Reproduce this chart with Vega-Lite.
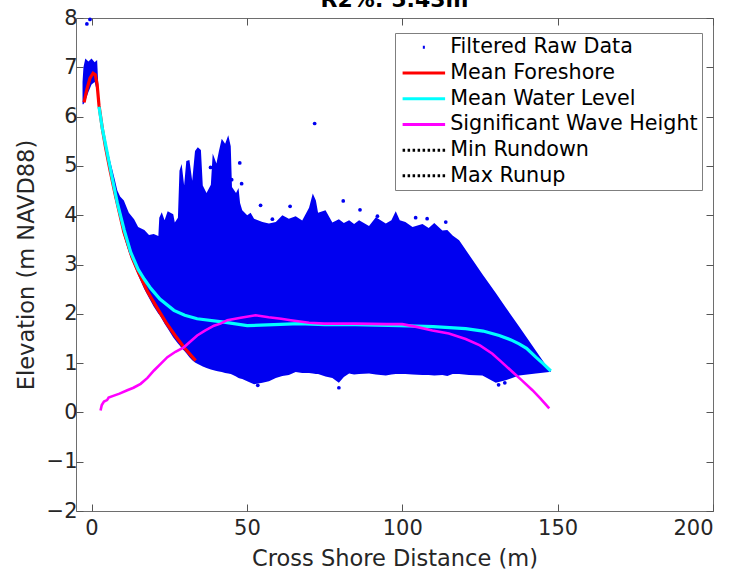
{
  "$schema": "https://vega.github.io/schema/vega-lite/v6.json",
  "width": 637,
  "height": 493,
  "autosize": {"type": "none"},
  "padding": {"left": 76, "top": 18, "right": 24, "bottom": 60},
  "background": "white",
  "title": {"text": "R2%: 5.43m", "fontSize": 22, "fontWeight": "bold", "font": "DejaVu Sans", "color": "#000000", "offset": -6.5, "dy": 20, "baseline": "bottom", "anchor": "middle", "frame": "group"},
  "config": {
    "font": "DejaVu Sans",
    "view": {"stroke": "#6e6e6e", "strokeWidth": 1},
    "axis": {"grid": false, "domain": false, "tickColor": "#555555", "tickSize": -7, "labelFont": "DejaVu Sans", "titleFont": "DejaVu Sans", "labelFontSize": 21, "titleFontSize": 22.5, "labelColor": "#262626", "titleColor": "#262626", "titleFontWeight": "normal"}
  },
  "datasets": {
    "cloud": [
      {"x": -2.9, "lo": 6.25, "hi": 6.7},
      {"x": -2.6, "lo": 6.25, "hi": 7.0},
      {"x": -2.0, "lo": 6.32, "hi": 7.18},
      {"x": -1.0, "lo": 6.5, "hi": 7.12},
      {"x": 0.0, "lo": 6.65, "hi": 7.18},
      {"x": 1.0, "lo": 6.7, "hi": 7.1},
      {"x": 1.8, "lo": 6.5, "hi": 7.15},
      {"x": 2.2, "lo": 6.3, "hi": 6.6},
      {"x": 2.6, "lo": 6.05, "hi": 6.15},
      {"x": 3.2, "lo": 5.75, "hi": 5.95},
      {"x": 4.5, "lo": 5.3, "hi": 5.5},
      {"x": 6.0, "lo": 4.82, "hi": 5.1},
      {"x": 7.5, "lo": 4.35, "hi": 4.72},
      {"x": 8.3, "lo": 4.15, "hi": 4.5},
      {"x": 9.2, "lo": 3.9, "hi": 4.38},
      {"x": 10.4, "lo": 3.58, "hi": 4.3},
      {"x": 12.0, "lo": 3.25, "hi": 4.05},
      {"x": 13.7, "lo": 2.98, "hi": 3.92},
      {"x": 15.0, "lo": 2.78, "hi": 3.76},
      {"x": 17.0, "lo": 2.5, "hi": 3.7},
      {"x": 18.5, "lo": 2.32, "hi": 3.6},
      {"x": 20.0, "lo": 2.15, "hi": 3.62},
      {"x": 21.5, "lo": 2.0, "hi": 3.58},
      {"x": 21.8, "lo": 1.98, "hi": 3.95},
      {"x": 22.6, "lo": 1.9, "hi": 4.06},
      {"x": 23.5, "lo": 1.8, "hi": 3.9},
      {"x": 24.5, "lo": 1.7, "hi": 4.08},
      {"x": 26.3, "lo": 1.52, "hi": 4.02},
      {"x": 26.8, "lo": 1.48, "hi": 3.85},
      {"x": 27.8, "lo": 1.4, "hi": 3.95},
      {"x": 28.3, "lo": 1.36, "hi": 4.9},
      {"x": 29.0, "lo": 1.3, "hi": 5.04},
      {"x": 29.8, "lo": 1.25, "hi": 4.6},
      {"x": 30.5, "lo": 1.2, "hi": 5.1},
      {"x": 31.5, "lo": 1.12, "hi": 5.12},
      {"x": 32.4, "lo": 1.06, "hi": 4.7},
      {"x": 33.3, "lo": 1.01, "hi": 5.3},
      {"x": 34.2, "lo": 0.98, "hi": 5.38},
      {"x": 35.2, "lo": 0.95, "hi": 5.32},
      {"x": 35.8, "lo": 0.93, "hi": 4.6},
      {"x": 37.0, "lo": 0.9, "hi": 4.45},
      {"x": 38.4, "lo": 0.87, "hi": 4.62},
      {"x": 39.0, "lo": 0.86, "hi": 5.25},
      {"x": 40.2, "lo": 0.84, "hi": 5.05},
      {"x": 41.0, "lo": 0.83, "hi": 5.3},
      {"x": 41.9, "lo": 0.82, "hi": 5.55},
      {"x": 43.0, "lo": 0.8, "hi": 5.45},
      {"x": 44.0, "lo": 0.79, "hi": 5.62},
      {"x": 44.8, "lo": 0.78, "hi": 5.4},
      {"x": 45.2, "lo": 0.77, "hi": 4.57},
      {"x": 46.5, "lo": 0.73, "hi": 4.45},
      {"x": 47.3, "lo": 0.7, "hi": 4.55},
      {"x": 47.8, "lo": 0.69, "hi": 4.25},
      {"x": 48.5, "lo": 0.68, "hi": 4.1},
      {"x": 50.1, "lo": 0.63, "hi": 4.0},
      {"x": 51.2, "lo": 0.6, "hi": 4.05},
      {"x": 52.3, "lo": 0.57, "hi": 3.93},
      {"x": 55.0, "lo": 0.6, "hi": 3.86},
      {"x": 57.1, "lo": 0.63, "hi": 3.83},
      {"x": 59.3, "lo": 0.7, "hi": 3.86},
      {"x": 61.4, "lo": 0.74, "hi": 4.0},
      {"x": 63.5, "lo": 0.76, "hi": 3.93},
      {"x": 65.7, "lo": 0.82, "hi": 3.98},
      {"x": 67.8, "lo": 0.8, "hi": 3.89},
      {"x": 70.0, "lo": 0.8, "hi": 4.15},
      {"x": 71.2, "lo": 0.79, "hi": 4.44},
      {"x": 72.2, "lo": 0.78, "hi": 4.3},
      {"x": 72.9, "lo": 0.78, "hi": 4.05},
      {"x": 75.3, "lo": 0.73, "hi": 4.1},
      {"x": 77.5, "lo": 0.7, "hi": 3.85},
      {"x": 79.6, "lo": 0.6, "hi": 3.92},
      {"x": 81.2, "lo": 0.72, "hi": 3.84},
      {"x": 82.9, "lo": 0.79, "hi": 3.9},
      {"x": 84.5, "lo": 0.77, "hi": 3.82},
      {"x": 86.1, "lo": 0.78, "hi": 3.9},
      {"x": 89.3, "lo": 0.79, "hi": 3.78},
      {"x": 91.5, "lo": 0.77, "hi": 3.96},
      {"x": 94.7, "lo": 0.75, "hi": 3.83},
      {"x": 96.5, "lo": 0.77, "hi": 3.9},
      {"x": 97.9, "lo": 0.78, "hi": 4.08},
      {"x": 99.2, "lo": 0.78, "hi": 3.9},
      {"x": 101.0, "lo": 0.78, "hi": 3.86},
      {"x": 103.3, "lo": 0.77, "hi": 3.76},
      {"x": 106.5, "lo": 0.76, "hi": 3.82},
      {"x": 108.5, "lo": 0.76, "hi": 3.74},
      {"x": 110.3, "lo": 0.75, "hi": 3.84},
      {"x": 112.9, "lo": 0.76, "hi": 3.69},
      {"x": 114.5, "lo": 0.74, "hi": 3.7},
      {"x": 116.2, "lo": 0.78, "hi": 3.59},
      {"x": 118.3, "lo": 0.78, "hi": 3.49},
      {"x": 121.5, "lo": 0.76, "hi": 3.2},
      {"x": 125.8, "lo": 0.75, "hi": 2.8},
      {"x": 130.1, "lo": 0.6, "hi": 2.42},
      {"x": 133.3, "lo": 0.65, "hi": 2.13},
      {"x": 137.6, "lo": 0.75, "hi": 1.74},
      {"x": 143.0, "lo": 0.79, "hi": 1.25},
      {"x": 147.3, "lo": 0.82, "hi": 0.86},
      {"x": 147.8, "lo": 0.82, "hi": 0.83}
    ],
    "outliers": [
      {"x": -1.5, "y": 7.88}, {"x": -0.5, "y": 7.97}, {"x": 71.8, "y": 5.86},
      {"x": 47.7, "y": 5.06}, {"x": 48.3, "y": 4.64}, {"x": 38.3, "y": 4.97},
      {"x": 45.1, "y": 4.72}, {"x": 54.4, "y": 4.2}, {"x": 63.9, "y": 4.18},
      {"x": 81.0, "y": 4.29}, {"x": 86.4, "y": 4.11}, {"x": 92.0, "y": 3.98},
      {"x": 104.3, "y": 3.95}, {"x": 108.0, "y": 3.93}, {"x": 114.0, "y": 3.86},
      {"x": 58.2, "y": 3.92}, {"x": 79.6, "y": 0.5}, {"x": 131.0, "y": 0.56},
      {"x": 133.0, "y": 0.6}, {"x": 53.5, "y": 0.55}
    ],
    "foreshore": [
      {"x": -2.4, "y": 6.29}, {"x": -1.5, "y": 6.55}, {"x": -0.5, "y": 6.78},
      {"x": 0.5, "y": 6.88}, {"x": 1.2, "y": 6.85}, {"x": 1.8, "y": 6.65},
      {"x": 2.4, "y": 6.23}, {"x": 3.5, "y": 5.75}, {"x": 4.5, "y": 5.38},
      {"x": 6.0, "y": 4.9}, {"x": 7.5, "y": 4.45}, {"x": 10.4, "y": 3.66},
      {"x": 13.0, "y": 3.15}, {"x": 15.0, "y": 2.85}, {"x": 18.0, "y": 2.45},
      {"x": 21.1, "y": 2.12}, {"x": 24.0, "y": 1.82}, {"x": 27.0, "y": 1.55},
      {"x": 30.0, "y": 1.3}, {"x": 33.5, "y": 1.05}
    ],
    "water": [
      {"x": 2.4, "y": 6.2}, {"x": 3.5, "y": 5.75}, {"x": 5.1, "y": 5.25},
      {"x": 6.5, "y": 4.8}, {"x": 8.3, "y": 4.25}, {"x": 10.5, "y": 3.7},
      {"x": 12.6, "y": 3.25}, {"x": 15.0, "y": 2.9}, {"x": 17.0, "y": 2.7},
      {"x": 19.0, "y": 2.52}, {"x": 22.0, "y": 2.3}, {"x": 26.5, "y": 2.07},
      {"x": 30.0, "y": 1.97}, {"x": 34.0, "y": 1.9}, {"x": 42.6, "y": 1.83},
      {"x": 50.1, "y": 1.76}, {"x": 58.7, "y": 1.78}, {"x": 66.8, "y": 1.8},
      {"x": 75.0, "y": 1.78}, {"x": 85.0, "y": 1.78}, {"x": 99.0, "y": 1.76},
      {"x": 110.0, "y": 1.74}, {"x": 120.4, "y": 1.7}, {"x": 126.0, "y": 1.65},
      {"x": 131.2, "y": 1.56}, {"x": 135.0, "y": 1.47}, {"x": 137.6, "y": 1.39},
      {"x": 140.0, "y": 1.3}, {"x": 143.0, "y": 1.12}, {"x": 145.5, "y": 0.98},
      {"x": 147.8, "y": 0.84}
    ],
    "wave": [
      {"x": 2.9, "y": 0.04}, {"x": 3.3, "y": 0.15}, {"x": 4.0, "y": 0.22},
      {"x": 5.0, "y": 0.25}, {"x": 5.5, "y": 0.3}, {"x": 7.2, "y": 0.34},
      {"x": 9.0, "y": 0.38}, {"x": 11.5, "y": 0.45}, {"x": 13.5, "y": 0.5},
      {"x": 15.8, "y": 0.58}, {"x": 18.0, "y": 0.7}, {"x": 20.1, "y": 0.85},
      {"x": 22.0, "y": 0.97}, {"x": 24.4, "y": 1.12}, {"x": 27.0, "y": 1.23},
      {"x": 29.7, "y": 1.32}, {"x": 32.0, "y": 1.45}, {"x": 34.0, "y": 1.56},
      {"x": 36.5, "y": 1.66}, {"x": 39.4, "y": 1.76}, {"x": 41.5, "y": 1.8},
      {"x": 43.7, "y": 1.87}, {"x": 48.0, "y": 1.92}, {"x": 52.8, "y": 1.97},
      {"x": 57.0, "y": 1.93}, {"x": 61.0, "y": 1.9}, {"x": 64.1, "y": 1.87},
      {"x": 70.0, "y": 1.82}, {"x": 74.8, "y": 1.8}, {"x": 85.0, "y": 1.8},
      {"x": 95.0, "y": 1.79}, {"x": 100.0, "y": 1.79}, {"x": 105.0, "y": 1.73},
      {"x": 109.7, "y": 1.66}, {"x": 115.0, "y": 1.6}, {"x": 120.4, "y": 1.49},
      {"x": 125.0, "y": 1.36}, {"x": 129.0, "y": 1.19}, {"x": 132.0, "y": 1.02},
      {"x": 135.5, "y": 0.82}, {"x": 138.5, "y": 0.65}, {"x": 141.9, "y": 0.45},
      {"x": 144.5, "y": 0.28}, {"x": 147.3, "y": 0.08}
    ]
  },
  "resolve": {"axis": {"x": "independent", "y": "independent"}},
  "layer": [
    {
      "data": {"name": "cloud"},
      "mark": {"type": "area", "opacity": 1},
      "encoding": {
        "x": {"field": "x", "type": "quantitative", "scale": {"domain": [-5, 200], "nice": false, "zero": false},
              "axis": {"orient": "bottom", "title": "Cross Shore Distance (m)", "values": [0, 50, 100, 150, 200], "labelPadding": 13, "titlePadding": 9}},
        "y": {"field": "hi", "type": "quantitative", "scale": {"domain": [-2, 8], "nice": false, "zero": false},
              "axis": {"orient": "left", "title": "Elevation (m NAVD88)", "values": [-2, -1, 0, 1, 2, 3, 4, 5, 6, 7, 8], "labelPadding": 6, "titlePadding": 8}},
        "y2": {"field": "lo"},
        "color": {"datum": "Filtered Raw Data", "type": "nominal",
          "scale": {"domain": ["Filtered Raw Data", "Mean Foreshore", "Mean Water Level", "Significant Wave Height", "Min Rundown", "Max Runup"],
                    "range": ["#0000f0", "#ff0000", "#00ffff", "#ff00ff", "#000000", "#000000"]},
          "legend": {"title": null, "orient": "none", "legendX": 319, "legendY": 15, "padding": 4,
            "fillColor": "white", "strokeColor": "#7f7f7f", "labelFontSize": 20.7, "labelFont": "DejaVu Sans",
            "labelColor": "#000000", "symbolSize": 289, "symbolOffset": 14.5, "labelOffset": 16, "rowPadding": 3.7, "labelLimit": 400,
            "symbolType": {"expr": "datum.value === 'Filtered Raw Data' ? 'M-0.12,0L0.12,0' : 'M-2.5,0L2.5,0'"},
            "symbolDash": {"expr": "(datum.value === 'Min Rundown' || datum.value === 'Max Runup') ? [2.5, 2.5] : [1, 0]"},
            "symbolStrokeWidth": 3,
            "symbolOpacity": 1
          }
        }
      }
    },
    {
      "data": {"name": "outliers"},
      "mark": {"type": "point", "filled": true, "size": 14, "opacity": 1},
      "encoding": {
        "x": {"field": "x", "type": "quantitative", "axis": {"orient": "top", "labels": false, "title": null, "values": [0, 50, 100, 150, 200]}},
        "y": {"field": "y", "type": "quantitative", "axis": {"orient": "right", "labels": false, "title": null, "values": [-2, -1, 0, 1, 2, 3, 4, 5, 6, 7, 8]}},
        "color": {"datum": "Filtered Raw Data", "type": "nominal"}
      }
    },
    {
      "data": {"name": "foreshore"},
      "mark": {"type": "line", "strokeWidth": 3.2},
      "encoding": {
        "x": {"field": "x", "type": "quantitative", "axis": null},
        "y": {"field": "y", "type": "quantitative", "axis": null},
        "color": {"datum": "Mean Foreshore", "type": "nominal"}
      }
    },
    {
      "data": {"name": "water"},
      "mark": {"type": "line", "strokeWidth": 3.2},
      "encoding": {
        "x": {"field": "x", "type": "quantitative", "axis": null},
        "y": {"field": "y", "type": "quantitative", "axis": null},
        "color": {"datum": "Mean Water Level", "type": "nominal"}
      }
    },
    {
      "data": {"name": "wave"},
      "mark": {"type": "line", "strokeWidth": 2.6},
      "encoding": {
        "x": {"field": "x", "type": "quantitative", "axis": null},
        "y": {"field": "y", "type": "quantitative", "axis": null},
        "color": {"datum": "Significant Wave Height", "type": "nominal"}
      }
    }
  ]
}
